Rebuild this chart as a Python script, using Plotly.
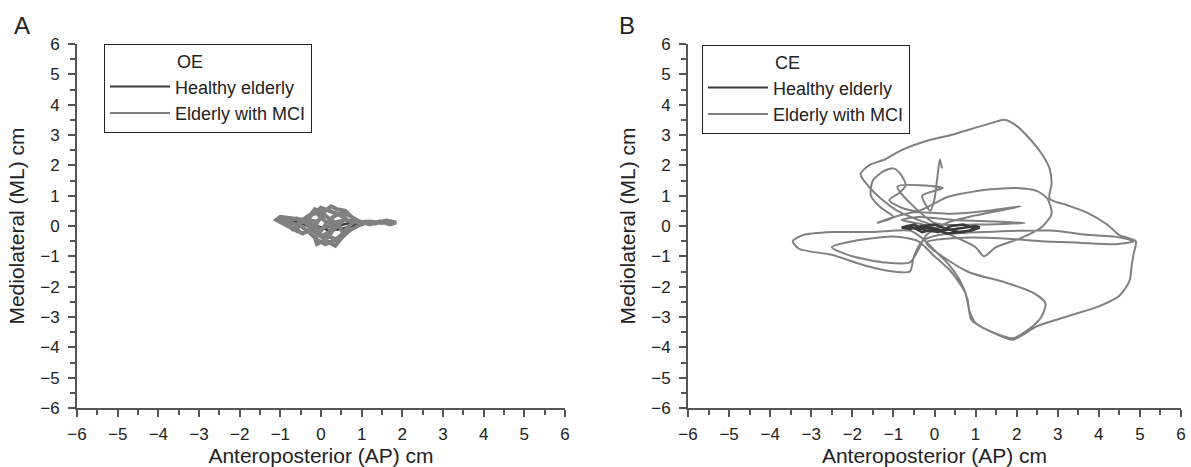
import plotly.graph_objects as go

# ---------------- data (cm) ----------------
# Panel A: open eyes (OE)
oe_healthy_x = [-1.05, -0.9, -0.7, -0.4, -0.2, 0.1, 0.4, 0.7, 1.0, 1.2, 0.9, 0.5, 0.2, -0.1, -0.5, -0.8, -1.0]
oe_healthy_y = [0.3, 0.2, 0.25, 0.05, -0.1, -0.05, 0.0, 0.1, 0.15, 0.12, 0.05, -0.1, -0.15, 0.0, 0.1, 0.2, 0.25]

oe_mci_x = [-0.1, -0.4, -0.7, -1.0, -1.1, -0.95, -0.75, -0.55, -0.6, -0.35,
            -0.15, 0.05, -0.05, 0.15, 0.3, 0.2, 0.4, 0.55, 0.45, 0.25,
            0.05, -0.15, -0.3, -0.2, 0.0, 0.2, 0.35, 0.5, 0.7, 0.9,
            1.1, 1.35, 1.6, 1.85, 1.7, 1.45, 1.2, 0.95, 0.75, 0.6,
            0.4, 0.25, 0.1, -0.05, -0.2, -0.45, -0.65, -0.85, -1.05, -0.8,
            -0.5, -0.3, -0.1, 0.1, 0.3, 0.5, 0.65, 0.85, 0.7, 0.5,
            0.3, 0.15, 0.0, -0.15, -0.1, 0.1, 0.25, 0.45, 0.6, 0.4,
            0.2, 0.0, -0.2, -0.4, -0.25, 0.0, 0.2, 0.35, 0.15, -0.05,
            -0.3, -0.5, -0.7, -0.9, -0.6, -0.3, 0.0, 0.3, 0.6, 0.9,
            1.2, 1.5, 1.75]
oe_mci_y = [0.15, 0.2, 0.22, 0.3, 0.2, 0.08, -0.05, -0.2, 0.05, 0.3,
            0.45, 0.6, 0.35, 0.1, -0.1, -0.35, -0.45, -0.25, 0.0, 0.2,
            0.4, 0.55, 0.3, 0.0, -0.3, -0.55, -0.65, -0.4, -0.15, 0.0,
            0.1, 0.08, 0.18, 0.12, 0.05, 0.15, 0.05, 0.15, 0.3, 0.5,
            0.55, 0.65, 0.5, 0.2, -0.1, -0.25, -0.1, 0.05, 0.25, 0.15,
            0.0, -0.2, -0.45, -0.6, -0.5, -0.3, -0.05, 0.2, 0.35, 0.45,
            0.3, 0.1, -0.15, -0.4, -0.6, -0.45, -0.2, 0.05, 0.25, 0.4,
            0.5, 0.6, 0.4, 0.15, -0.1, -0.35, -0.2, 0.05, 0.3, 0.45,
            0.35, 0.1, -0.1, 0.15, 0.25, 0.05, -0.1, 0.1, 0.2, 0.12,
            0.15, 0.1, 0.15]

# Panel B: closed eyes (CE)
ce_healthy_x = [-0.7, -0.4, -0.1, 0.2, 0.5, 0.8, 1.0, 1.1, 0.9, 0.6, 0.3, 0.0, -0.3, -0.6, -0.8, -0.5,
                -0.2, 0.1, 0.4, 0.7, 1.0, 0.7, 0.3, 0.0, -0.3, -0.6]
ce_healthy_y = [0.0, -0.1, -0.05, -0.15, -0.1, -0.05, 0.0, -0.05, -0.15, -0.2, -0.1, 0.05, 0.0, -0.1,
                -0.05, 0.05, -0.15, -0.2, 0.0, 0.05, -0.1, -0.2, -0.25, -0.1, -0.2, 0.0]

ce_mci_x = [0.0, -0.4, -0.9, -1.3, -1.6, -1.8, -1.6, -1.2, -0.8, -0.2, 0.4, 0.9, 1.4, 1.7, 2.0, 2.3,
            2.6, 2.8, 2.85, 2.8, 3.2, 3.7, 4.2, 4.5, 4.9, 4.85, 4.8, 4.75, 4.5, 4.0, 3.3, 2.5, 1.9,
            1.4, 0.9, 0.8, 0.6, 0.3, 0.0, -0.3, -0.6, -1.5, -2.5, -3.2, -3.45, -3.3, -2.5, -1.7, -1.0,
            -0.6, -0.5, -0.3, 0.1, 1.2, 2.8, 3.8, 4.4, 4.85, 4.4, 3.5, 2.6, 1.6, 0.5, -0.2, 0.8, 1.7,
            2.4, 2.7, 2.6, 2.3, 1.9, 1.5, 1.0, 0.85, 0.75, 0.4, 0.0, -0.4, -1.0, -2.0, -2.5, -2.0,
            -1.2, -0.6, -0.4, -0.2, 0.3, 1.0, 2.1, 1.3, 0.4, -0.5, -1.2, -1.4, -1.0, -1.3, -1.55, -1.5,
            -1.25, -1.0, -0.85, -0.7, -0.85, -1.1, -0.8, -0.4, 0.3, 0.8, 1.3, 2.0, 2.5, 2.75, 2.85,
            2.6, 2.1, 1.5, 1.2, 1.0, 0.4, -0.3, -0.8, -0.4, 0.5, 1.5, 2.2, 1.0, 0.0, -0.9, 0.2, -0.3,
            -0.1, 0.0, 0.06, 0.13, 0.18]
ce_mci_y = [0.0, 0.2, 0.5, 0.9, 1.3, 1.7, 2.0, 2.2, 2.5, 2.8, 3.0, 3.2, 3.4, 3.5, 3.3, 2.9, 2.4, 1.9,
            1.4, 0.9, 0.7, 0.45, 0.05, -0.3, -0.5, -0.9, -1.3, -1.8, -2.3, -2.65, -2.95, -3.3, -3.75,
            -3.5, -3.1, -2.4, -1.75, -1.2, -0.8, -0.4, -0.15, -0.2, -0.2, -0.3, -0.5, -0.75, -0.95,
            -1.3, -1.5, -1.5, -1.0, -0.5, -0.3, -0.2, -0.15, -0.3, -0.35, -0.5, -0.6, -0.55, -0.5,
            -0.4, -0.4, -0.55, -1.5, -1.85, -2.2, -2.55, -3.0, -3.4, -3.7, -3.55, -3.2, -2.8, -2.2,
            -1.5, -1.0, -0.5, -0.35, -0.5, -0.7, -1.0, -1.2, -1.2, -0.8, -0.3, 0.1, 0.35, 0.65, 0.5,
            0.4, 0.45, 0.2, 0.1, 0.3, 0.6, 1.0, 1.5, 1.8, 1.9, 1.75, 1.35, 1.1, 0.85, 0.6, 0.5, 0.95,
            1.1, 1.2, 1.25, 1.15, 0.9, 0.4, -0.05, -0.4, -0.7, -1.0, -0.7, -0.3, 0.05, 0.2, 0.3, 0.2,
            0.15, 0.1, 0.05, 0.1, 1.3, 1.25, 1.0, 0.5, 0.9, 1.5, 2.2, 1.9]

tick_vals = [-6, -5, -4, -3, -2, -1, 0, 1, 2, 3, 4, 5, 6]
series_names = ["Healthy elderly", "Elderly with MCI"]
conditions = ["OE", "CE"]
panel_letters = ["A", "B"]

# ---------------- style ----------------
FONT = "Liberation Sans, Arial, sans-serif"
DARK = "#3a3a3a"
GRAY = "#808080"
AXIS = "#555555"
TXT = "#222222"

W, H = 1191, 467
ML, MT = 77, 44
MR = W - 1181
MB = H - 408
IW, IH = W - ML - MR, H - MT - MB

def fx(p):  # window pixel x -> paper x
    return (p - ML) / IW

def fy(p):  # window pixel y -> paper y
    return (H - MB - p) / IH

fig = go.Figure()

# Panel A data traces
fig.add_trace(go.Scatter(x=oe_healthy_x, y=oe_healthy_y, mode="lines", showlegend=False,
                         line=dict(color=DARK, width=2.5), xaxis="x", yaxis="y"))
fig.add_trace(go.Scatter(x=oe_mci_x, y=oe_mci_y, mode="lines", showlegend=False,
                         line=dict(color=GRAY, width=4), xaxis="x", yaxis="y"))
# Panel B data traces
fig.add_trace(go.Scatter(x=ce_mci_x, y=ce_mci_y, mode="lines", showlegend=False,
                         line=dict(color=GRAY, width=2, shape="spline", smoothing=0.7),
                         xaxis="x2", yaxis="y2"))
fig.add_trace(go.Scatter(x=ce_healthy_x, y=ce_healthy_y, mode="lines", showlegend=False,
                         line=dict(color=DARK, width=2.5), xaxis="x2", yaxis="y2"))

# Legend entries (thin line samples, as in the reference)
for leg, xa, ya in (("legend", "x", "y"), ("legend2", "x2", "y2")):
    for name, col in zip(series_names, (DARK, GRAY)):
        fig.add_trace(go.Scatter(x=[None], y=[None], mode="lines", name=name,
                                 line=dict(color=col, width=2), xaxis=xa, yaxis=ya, legend=leg))

axis_common = dict(
    range=[-6, 6], tickmode="array", tickvals=tick_vals,
    showline=True, linecolor=AXIS, linewidth=2,
    ticks="outside", ticklen=7, tickwidth=1.5, tickcolor=AXIS,
    minor=dict(dtick=0.5, ticks="outside", ticklen=5, tickwidth=1.5, tickcolor=AXIS),
    showgrid=False, zeroline=False, automargin=False,
    tickfont=dict(family=FONT, size=17, color=TXT),
    fixedrange=True,
)

x_title = dict(text="Anteroposterior (AP) cm", font=dict(family=FONT, size=21, color=TXT), standoff=4)
y_title = dict(text="Mediolateral (ML) cm", font=dict(family=FONT, size=21, color=TXT), standoff=10)

legend_common = dict(
    xanchor="left", yanchor="top",
    bordercolor=TXT, borderwidth=1, bgcolor="white",
    font=dict(family=FONT, size=18, color=TXT),
    tracegroupgap=0, itemwidth=60,
)

nb = "\u00a0" * 14
fig.update_layout(
    width=W, height=H,
    margin=dict(l=ML, r=MR, t=MT, b=MB),
    paper_bgcolor="white", plot_bgcolor="white",
    font=dict(family=FONT, color=TXT),
    xaxis=dict(domain=[fx(77), fx(565)], anchor="y", title=x_title, ticklabelstandoff=3, **axis_common),
    yaxis=dict(domain=[0, 1], anchor="x", title=y_title, ticklabelstandoff=5, **axis_common),
    xaxis2=dict(domain=[fx(688), fx(1181)], anchor="y2", title=x_title, ticklabelstandoff=3, **axis_common),
    yaxis2=dict(domain=[0, 1], anchor="x2", title=y_title, ticklabelstandoff=5, **axis_common),
    legend=dict(x=fx(104), y=fy(44), title=dict(text=nb + conditions[0], side="top",
                font=dict(family=FONT, size=18, color=TXT)), **legend_common),
    legend2=dict(x=fx(702), y=fy(45), title=dict(text=nb + conditions[1], side="top",
                 font=dict(family=FONT, size=18, color=TXT)), **legend_common),
    annotations=[
        dict(text=panel_letters[0], x=fx(12), y=fy(26), xref="paper", yref="paper",
             xanchor="left", yanchor="middle", showarrow=False,
             font=dict(family=FONT, size=24, color=TXT)),
        dict(text=panel_letters[1], x=fx(617), y=fy(26), xref="paper", yref="paper",
             xanchor="left", yanchor="middle", showarrow=False,
             font=dict(family=FONT, size=24, color=TXT)),
    ],
    showlegend=True,
)

# remove the default page margin so the figure sits exactly in the 1191x467 window
fig.write_html("out.html",
               config={"displayModeBar": False},
               post_script="document.body.style.margin='0';document.body.style.overflow='hidden';")
